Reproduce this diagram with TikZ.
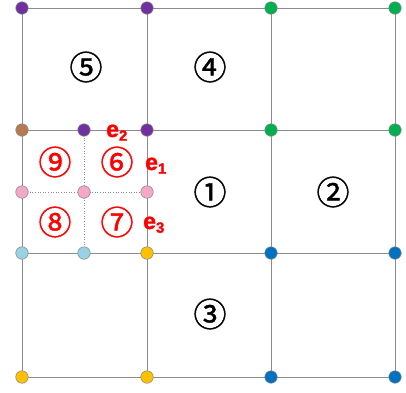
\documentclass[tikz,border=0pt]{standalone}
\usepackage{fontspec}
\setmainfont{Liberation Sans}
\newfontfamily\circfont{Noto Sans CJK JP}[FakeBold=1.2]
\newfontfamily\efont{Liberation Sans}[BoldFeatures={FakeBold=1.5}]
\definecolor{cpurple}{HTML}{7030A0}
\definecolor{cbrown}{HTML}{B67A52}
\definecolor{cgreen}{HTML}{00B050}
\definecolor{cblue}{HTML}{0070C0}
\definecolor{cyellow}{HTML}{FFC000}
\definecolor{clblue}{HTML}{98D3E4}
\definecolor{cpink}{HTML}{F4A8C6}
\definecolor{gridgray}{HTML}{8C8C8C}
\tikzset{
  dot/.style={circle,draw=gridgray,line width=0.6pt,minimum size=12.5pt,inner sep=0pt},
  gridline/.style={draw=gridgray,line width=1pt},
  dotline/.style={draw=gridgray,line width=0.6pt,dotted},
  blk/.style={font=\circfont\fontsize{33}{33}\selectfont,text=black,inner sep=0pt},
  rd/.style={font=\circfont\fontsize{33}{33}\selectfont,text=red,inner sep=0pt},
  elab/.style={font=\efont\bfseries\fontsize{23}{23}\selectfont,text=red,inner sep=0pt},
}
\begin{document}
\begin{tikzpicture}[x=1pt,y=-1pt]
\useasboundingbox (0,0) rectangle (406,392);
% positions
\coordinate (p00) at (22,8);   \coordinate (p10) at (147,8);  \coordinate (p20) at (271,8);  \coordinate (p30) at (395,8);
\coordinate (p01) at (22,130); \coordinate (m1) at (84,130);  \coordinate (p11) at (147,130); \coordinate (p21) at (271,130); \coordinate (p31) at (395,130);
\coordinate (q0) at (22,192);  \coordinate (q1) at (84,192);  \coordinate (q2) at (147,192);
\coordinate (p02) at (22,253); \coordinate (m2) at (84,253);  \coordinate (p12) at (147,253); \coordinate (p22) at (271,253); \coordinate (p32) at (395,253);
\coordinate (p03) at (22,377); \coordinate (p13) at (147,377); \coordinate (p23) at (271,377); \coordinate (p33) at (395,377);
% grid lines
\draw[gridline] (p00) -- (p30);
\draw[gridline] (p01) -- (p31);
\draw[gridline] (p02) -- (p32);
\draw[gridline] (p03) -- (p33);
\draw[gridline] (p00) -- (p03);
\draw[gridline] (p10) -- (p13);
\draw[gridline] (p20) -- (p23);
\draw[gridline] (p30) -- (p33);
% dotted subdivisions
\draw[dotline] (m1) -- (m2);
\draw[dotline] (q0) -- (q2);
% dots
\node[dot,fill=cpurple] (d00) at (p00) {};
\node[dot,fill=cpurple] (d10) at (p10) {};
\node[dot,fill=cgreen] (d20) at (p20) {};
\node[dot,fill=cgreen] (d30) at (p30) {};
\node[dot,fill=cbrown] (d01) at (p01) {};
\node[dot,fill=cpurple] (dm1) at (m1) {};
\node[dot,fill=cpurple] (d11) at (p11) {};
\node[dot,fill=cgreen] (d21) at (p21) {};
\node[dot,fill=cgreen] (d31) at (p31) {};
\node[dot,fill=cpink] (dq0) at (q0) {};
\node[dot,fill=cpink] (dq1) at (q1) {};
\node[dot,fill=cpink] (dq2) at (q2) {};
\node[dot,fill=clblue] (d02) at (p02) {};
\node[dot,fill=clblue] (dm2) at (m2) {};
\node[dot,fill=cyellow] (d12) at (p12) {};
\node[dot,fill=cblue] (d22) at (p22) {};
\node[dot,fill=cblue] (d32) at (p32) {};
\node[dot,fill=cyellow] (d03) at (p03) {};
\node[dot,fill=cyellow] (d13) at (p13) {};
\node[dot,fill=cblue] (d23) at (p23) {};
\node[dot,fill=cblue] (d33) at (p33) {};
% region labels
\node[blk] (r5) at (86,67) {⑤};
\node[blk] (r4) at (210,67) {④};
\node[blk] (r1) at (210,192) {①};
\node[blk] (r2) at (333,192) {②};
\node[blk] (r3) at (210,314) {③};
\node[rd] (r9) at (55,162) {⑨};
\node[rd] (r6) at (117,162) {⑥};
\node[rd] (r8) at (55,222) {⑧};
\node[rd] (r7) at (117,222) {⑦};
% edge labels
\node[elab,anchor=base west] (e2) at (106,137) {e\textsubscript{\fontsize{15}{15}\selectfont 2}};
\node[elab,anchor=base west] (e1) at (145,170) {e\textsubscript{\fontsize{15}{15}\selectfont 1}};
\node[elab,anchor=base west] (e3) at (143,229) {e\textsubscript{\fontsize{15}{15}\selectfont 3}};
\end{tikzpicture}
\end{document}
